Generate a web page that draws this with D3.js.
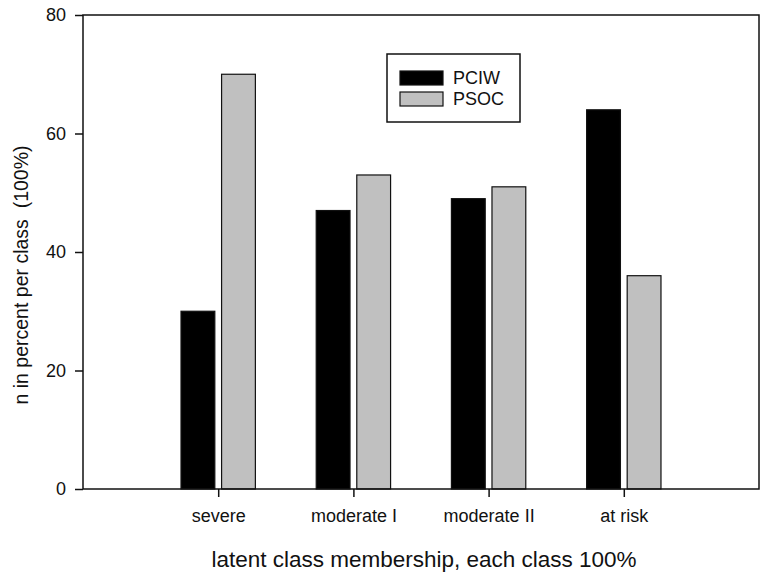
<!DOCTYPE html>
<html>
<head>
<meta charset="utf-8">
<script src="https://cdn.jsdelivr.net/npm/d3@7"></script>
<style>
  body { margin: 0; background: #fff; }
  text { font-family: "Liberation Sans", Arial, sans-serif; fill: #111; }
</style>
</head>
<body>
<div id="chart"></div>
<script>
// data
const classes = ["severe", "moderate I", "moderate II", "at risk"];
const seriesNames = ["PCIW", "PSOC"];
const pciw = [30, 47, 49, 64];
const psoc = [70, 53, 51, 36];
const yTicks = [0, 20, 40, 60, 80];
const fills = ["#000000", "#c0c0c0"];

const W = 767, H = 579;
const plot = {left: 83, right: 759, top: 15, bottom: 489};

const svg = d3.select("#chart").append("svg")
    .attr("width", W).attr("height", H);

// category positions 1..4 on a 0..5 axis
const x = d3.scaleLinear().domain([0, classes.length + 1]).range([plot.left, plot.right]);
const y = d3.scaleLinear().domain([0, 80]).range([plot.bottom, plot.top]);

const barW = 0.25, gap = 0.05;

// bars
const series = [pciw, psoc];
series.forEach((vals, s) => {
  svg.append("g").selectAll("rect").data(vals).enter().append("rect")
    .attr("x", (d, i) => s === 0 ? x(i + 1 - gap / 2 - barW) : x(i + 1 + gap / 2))
    .attr("y", d => y(d))
    .attr("width", x(barW) - x(0))
    .attr("height", d => y(0) - y(d))
    .attr("fill", fills[s])
    .attr("stroke", "#111")
    .attr("stroke-width", 1.2);
});

// frame
svg.append("rect")
  .attr("x", plot.left).attr("y", plot.top)
  .attr("width", plot.right - plot.left).attr("height", plot.bottom - plot.top)
  .attr("fill", "none").attr("stroke", "#111").attr("stroke-width", 1.5);

// y axis
const yAxis = svg.append("g")
  .attr("transform", "translate(" + plot.left + ",0)")
  .call(d3.axisLeft(y).tickValues(yTicks).tickSize(8).tickPadding(9));
yAxis.select(".domain").remove();
yAxis.selectAll("line").attr("stroke", "#111").attr("stroke-width", 1.5);
yAxis.selectAll("text").style("font-size", "18px").attr("fill", "#111")
  .style("font-family", "Liberation Sans, Arial, sans-serif");

// x axis
const xAxis = svg.append("g")
  .attr("transform", "translate(0," + plot.bottom + ")")
  .call(d3.axisBottom(x).tickValues(d3.range(1, classes.length + 1))
    .tickFormat(d => classes[d - 1]).tickSize(8).tickPadding(12));
xAxis.select(".domain").remove();
xAxis.selectAll("line").attr("stroke", "#111").attr("stroke-width", 1.5);
xAxis.selectAll("text").style("font-size", "18px").attr("fill", "#111")
  .style("font-family", "Liberation Sans, Arial, sans-serif");

// axis titles
svg.append("text")
  .attr("x", 424).attr("y", 567)
  .attr("text-anchor", "middle")
  .style("font-size", "22.5px")
  .text("latent class membership, each class 100%");

svg.append("text")
  .attr("transform", "translate(28,275) rotate(-90)")
  .attr("text-anchor", "middle")
  .style("font-size", "19.5px")
  .style("white-space", "pre")
  .text("n in percent per class  (100%)");

// legend
const lg = svg.append("g");
lg.append("rect")
  .attr("x", 387).attr("y", 54).attr("width", 133).attr("height", 68)
  .attr("fill", "#fff").attr("stroke", "#111").attr("stroke-width", 1.5);
seriesNames.forEach((name, i) => {
  lg.append("rect")
    .attr("x", 400).attr("y", 71 + i * 21).attr("width", 43).attr("height", 14)
    .attr("fill", fills[i]).attr("stroke", "#111").attr("stroke-width", 1.2);
  lg.append("text")
    .attr("x", 453).attr("y", 84 + i * 21)
    .style("font-size", "18px")
    .text(name);
});
</script>
</body>
</html>
